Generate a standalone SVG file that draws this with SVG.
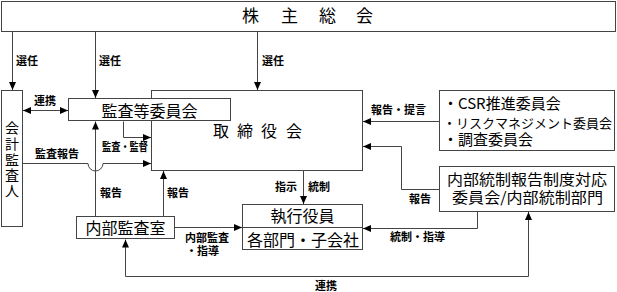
<svg xmlns="http://www.w3.org/2000/svg" width="617" height="292" viewBox="0 0 617 292">
<style>
  .box{fill:#fff;stroke:#444;stroke-width:1}
  .ln{fill:none;stroke:#444;stroke-width:1}
  .arr{marker-end:url(#ah)}
  .t{font-family:"Noto Sans CJK JP","Noto Sans CJK SC",sans-serif;fill:#000}
  .big{font-size:16px}
  .lb{font-size:11px;font-weight:bold}
  .mid{text-anchor:middle}
</style>
<defs>
  <marker id="ah" viewBox="0 0 8 8" refX="8" refY="4" markerWidth="8" markerHeight="8" markerUnits="userSpaceOnUse" orient="auto-start-reverse">
    <path d="M0,0.5 L8,4 L0,7.5 z" fill="#000"/>
  </marker>
</defs>
<rect width="617" height="292" fill="#fff"/>

<g id="connectors">
  <path class="ln arr" d="M12.5 31.5 V90"/>
  <path class="ln arr" d="M95.5 31.5 V98"/>
  <path class="ln arr" d="M257.5 31.5 V90"/>
  <path class="ln arr" d="M23 110.5 H68" marker-start="url(#ah)"/>
  <path class="ln arr" d="M123.5 121.5 V137.5 H151"/>
  <path class="ln arr" d="M22 163.5 H88 A7.5 7.5 0 0 0 103 163.5 H151"/>
  <path class="ln arr" d="M95.5 216 V121.5"/>
  <path class="ln arr" d="M163.5 216 V171"/>
  <path class="ln arr" d="M175 227.5 H242"/>
  <path class="ln arr" d="M303.5 171 V204"/>
  <path class="ln arr" d="M439 121.5 H363"/>
  <path class="ln arr" d="M439 189.5 H401.5 V146.5 H363"/>
  <path class="ln arr" d="M477.5 212 V228.5 H363"/>
  <path class="ln arr" d="M125.5 239.5 V276.5 H528.5 V212" marker-start="url(#ah)"/>

  <text class="t lb" x="16" y="65">選任</text>
  <text class="t lb" x="99" y="65">選任</text>
  <text class="t lb" x="262" y="65">選任</text>
  <text class="t lb" x="34" y="104.5">連携</text>
  <text class="t lb" x="35" y="158">監査報告</text>
  <text class="t lb" x="102" y="151" textLength="46" lengthAdjust="spacingAndGlyphs">監査・監督</text>
  <text class="t lb" x="100" y="197">報告</text>
  <text class="t lb" x="167" y="197">報告</text>
  <text class="t lb" x="185" y="242">内部監査</text>
  <text class="t lb" x="186" y="255">・指導</text>
  <text class="t lb" x="275" y="191">指示</text>
  <text class="t lb" x="308" y="191">統制</text>
  <text class="t lb" x="371" y="114">報告・提言</text>
  <text class="t lb" x="409" y="203">報告</text>
  <text class="t lb" x="390" y="241">統制・指導</text>
  <text class="t lb" x="315" y="290">連携</text>
</g>

<g id="shareholders">
  <rect class="box" x="1.5" y="1.5" width="614" height="30"/>
  <text class="t" style="font-size:17px" y="22"><tspan x="242">株</tspan><tspan x="281">主</tspan><tspan x="319">総</tspan><tspan x="356">会</tspan></text>
</g>

<g id="board">
  <rect class="box" x="151.5" y="90.5" width="211" height="80"/>
  <text class="t big" y="137"><tspan x="213">取</tspan><tspan x="237">締</tspan><tspan x="261">役</tspan><tspan x="286">会</tspan></text>
</g>

<g id="audit-committee">
  <rect class="box" x="68.5" y="98.5" width="162" height="22"/>
  <text class="t big mid" x="149.5" y="117">監査等委員会</text>
</g>

<g id="accounting-auditor">
  <rect class="box" x="1.5" y="90.5" width="21" height="136"/>
  <text class="t" style="font-size:14px;writing-mode:vertical-rl;letter-spacing:1.7px" x="12" y="121">会計監査人</text>
</g>

<g id="internal-audit">
  <rect class="box" x="76.5" y="216.5" width="98" height="22"/>
  <text class="t big mid" x="125.5" y="234">内部監査室</text>
</g>

<g id="executives">
  <rect class="box" x="242.5" y="204.5" width="120" height="45"/>
  <line class="ln" x1="242.5" y1="227.5" x2="362.5" y2="227.5"/>
  <text class="t big mid" x="302.5" y="222">執行役員</text>
  <text class="t big mid" x="303" y="246">各部門・子会社</text>
</g>

<g id="committees">
  <rect class="box" x="439.5" y="90.5" width="175" height="60"/>
  <text class="t" style="font-size:15px" x="443" y="109">・CSR推進委員会</text>
  <text class="t" style="font-size:13px" x="443" y="128">・リスクマネジメント委員会</text>
  <text class="t" style="font-size:15px" x="443" y="145">・調査委員会</text>
</g>

<g id="internal-control">
  <rect class="box" x="439.5" y="166.5" width="175" height="45"/>
  <text class="t mid" style="font-size:15px" x="527" y="185" textLength="160" lengthAdjust="spacingAndGlyphs">内部統制報告制度対応</text>
  <text class="t mid" style="font-size:15px" x="527.5" y="202.5" textLength="151" lengthAdjust="spacingAndGlyphs">委員会/内部統制部門</text>
</g>
</svg>
